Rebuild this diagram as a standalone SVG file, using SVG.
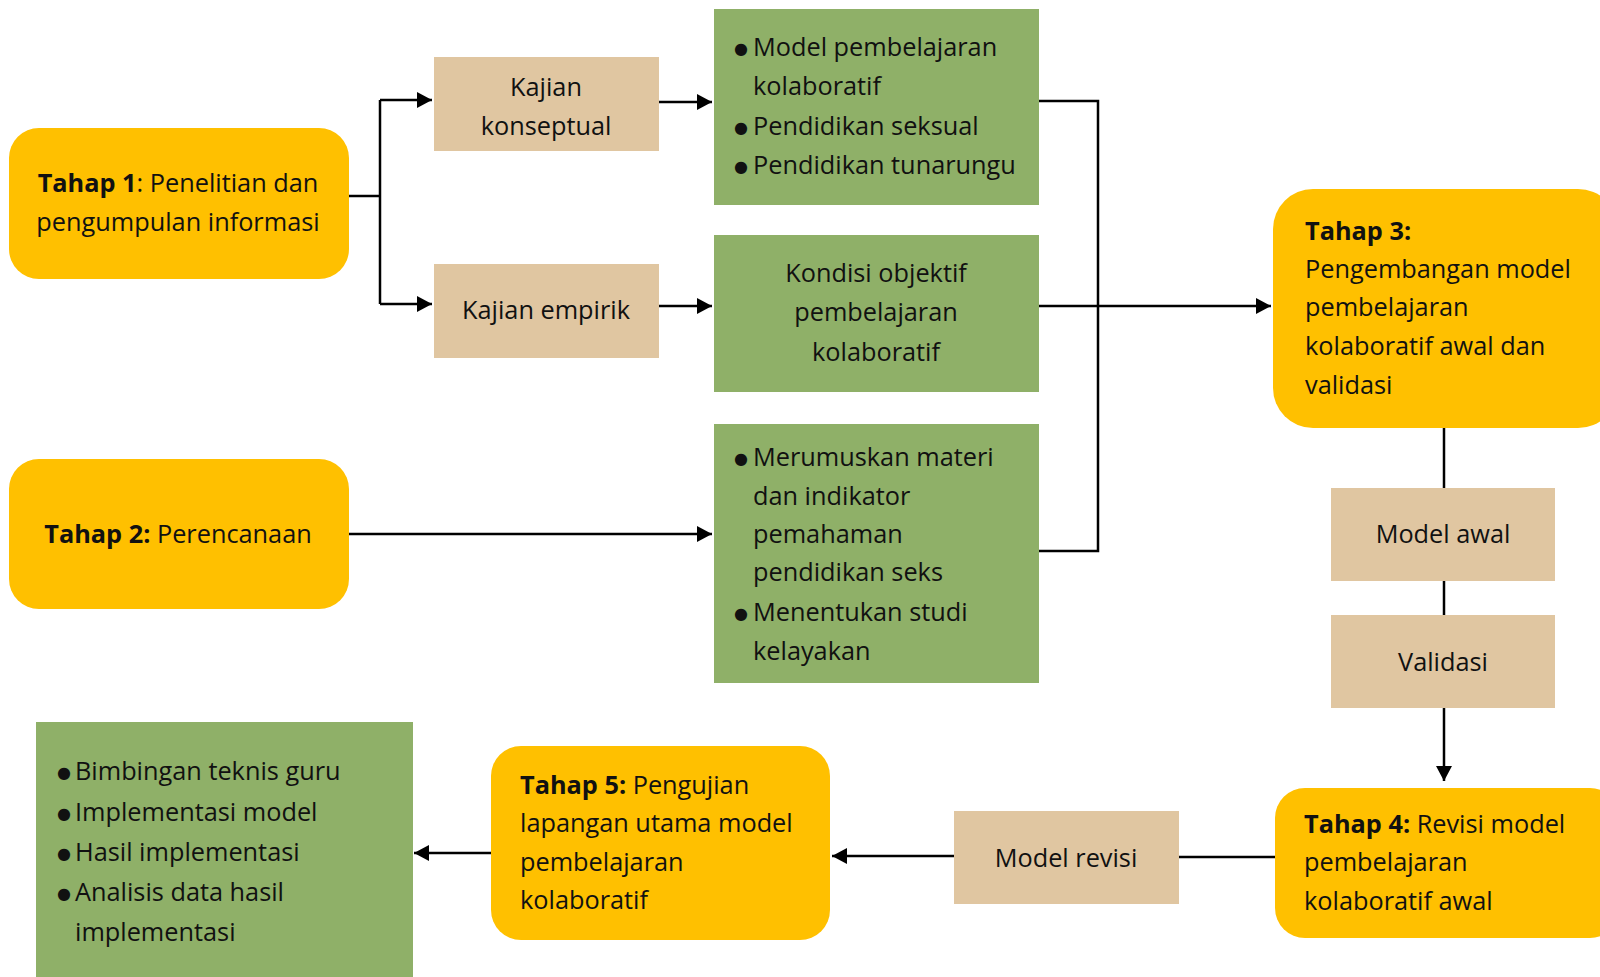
<svg xmlns="http://www.w3.org/2000/svg" width="1600" height="977" viewBox="0 0 1600 977">
<style>
text{font-family:"Open Sans","Noto Sans","Liberation Sans",sans-serif;font-size:25.3px;fill:#111}
.c{text-anchor:middle}
.b{font-weight:bold}
.bu{font-family:"DejaVu Sans",sans-serif;font-size:16px;text-anchor:middle}
.y{fill:#FFC000}
.g{fill:#8FB068}
.t{fill:#E0C6A1}
.ln{stroke:#000;stroke-width:2.5;fill:none}
</style>
<defs>
<marker id="ah" markerUnits="userSpaceOnUse" markerWidth="16" markerHeight="16" refX="15" refY="8" orient="auto">
<path d="M0,0 L15,8 L0,16 Z" fill="#000"/>
</marker>
</defs>
<rect width="1600" height="977" fill="#fff"/>
<g id="connectors">
<polyline class="ln" points="349,196 380,196"/>
<polyline class="ln" points="380,100 380,304"/>
<polyline class="ln" points="380,100 432,100" marker-end="url(#ah)"/>
<polyline class="ln" points="380,304 432,304" marker-end="url(#ah)"/>
<polyline class="ln" points="659,102 712,102" marker-end="url(#ah)"/>
<polyline class="ln" points="659,306 712,306" marker-end="url(#ah)"/>
<polyline class="ln" points="349,534 712,534" marker-end="url(#ah)"/>
<polyline class="ln" points="1039,101 1098,101 1098,551 1039,551"/>
<polyline class="ln" points="1039,306 1271,306" marker-end="url(#ah)"/>
<polyline class="ln" points="1444,428 1444,488"/>
<polyline class="ln" points="1444,581 1444,615"/>
<polyline class="ln" points="1444,708 1444,781" marker-end="url(#ah)"/>
<polyline class="ln" points="1275,857 1179,857"/>
<polyline class="ln" points="954,856 832,856" marker-end="url(#ah)"/>
<polyline class="ln" points="491,853 414,853" marker-end="url(#ah)"/>
</g>
<g id="tahap1">
<rect class="y" x="9" y="128" width="340" height="151" rx="30"/>
<text class="c" x="178" y="192"><tspan class="b">Tahap 1</tspan>: Penelitian dan</text>
<text class="c" x="178" y="231">pengumpulan informasi</text>
</g>
<g id="kajian-konseptual">
<rect class="t" x="434" y="57" width="225" height="94"/>
<text class="c" x="546" y="96">Kajian</text>
<text class="c" x="546" y="135">konseptual</text>
</g>
<g id="kajian-empirik">
<rect class="t" x="434" y="264" width="225" height="94"/>
<text class="c" x="546" y="319">Kajian empirik</text>
</g>
<g id="green1">
<rect class="g" x="714" y="9" width="325" height="196"/>
<text class="bu" x="741" y="54">●</text><text x="753" y="56">Model pembelajaran</text>
<text x="753" y="95">kolaboratif</text>
<text class="bu" x="741" y="133">●</text><text x="753" y="135">Pendidikan seksual</text>
<text class="bu" x="741" y="172">●</text><text x="753" y="174">Pendidikan tunarungu</text>
</g>
<g id="green2">
<rect class="g" x="714" y="235" width="325" height="157"/>
<text class="c" x="876" y="282">Kondisi objektif</text>
<text class="c" x="876" y="321">pembelajaran</text>
<text class="c" x="876" y="361">kolaboratif</text>
</g>
<g id="tahap2">
<rect class="y" x="9" y="459" width="340" height="150" rx="30"/>
<text class="c" x="178" y="543"><tspan class="b">Tahap 2:</tspan> Perencanaan</text>
</g>
<g id="green3">
<rect class="g" x="714" y="424" width="325" height="259"/>
<text class="bu" x="741" y="464">●</text><text x="753" y="466">Merumuskan materi</text>
<text x="753" y="505">dan indikator</text>
<text x="753" y="543">pemahaman</text>
<text x="753" y="581">pendidikan seks</text>
<text class="bu" x="741" y="619">●</text><text x="753" y="621">Menentukan studi</text>
<text x="753" y="660">kelayakan</text>
</g>
<g id="tahap3">
<rect class="y" x="1273" y="189" width="345" height="239" rx="40"/>
<text class="b" x="1305" y="240">Tahap 3:</text>
<text x="1305" y="278">Pengembangan model</text>
<text x="1305" y="316">pembelajaran</text>
<text x="1305" y="355">kolaboratif awal dan</text>
<text x="1305" y="394">validasi</text>
</g>
<g id="model-awal">
<rect class="t" x="1331" y="488" width="224" height="93"/>
<text class="c" x="1443" y="543">Model awal</text>
</g>
<g id="validasi">
<rect class="t" x="1331" y="615" width="224" height="93"/>
<text class="c" x="1443" y="671">Validasi</text>
</g>
<g id="tahap4">
<rect class="y" x="1275" y="788" width="345" height="150" rx="30"/>
<text x="1304" y="833"><tspan class="b">Tahap 4:</tspan> Revisi model</text>
<text x="1304" y="871">pembelajaran</text>
<text x="1304" y="910">kolaboratif awal</text>
</g>
<g id="model-revisi">
<rect class="t" x="954" y="811" width="225" height="93"/>
<text class="c" x="1066" y="867">Model revisi</text>
</g>
<g id="tahap5">
<rect class="y" x="491" y="746" width="339" height="194" rx="30"/>
<text x="520" y="794"><tspan class="b">Tahap 5:</tspan> Pengujian</text>
<text x="520" y="832">lapangan utama model</text>
<text x="520" y="871">pembelajaran</text>
<text x="520" y="909">kolaboratif</text>
</g>
<g id="green4">
<rect class="g" x="36" y="722" width="377" height="260"/>
<text class="bu" x="64" y="778">●</text><text x="75" y="780">Bimbingan teknis guru</text>
<text class="bu" x="64" y="819">●</text><text x="75" y="821">Implementasi model</text>
<text class="bu" x="64" y="859">●</text><text x="75" y="861">Hasil implementasi</text>
<text class="bu" x="64" y="899">●</text><text x="75" y="901">Analisis data hasil</text>
<text x="75" y="941">implementasi</text>
</g>
</svg>
